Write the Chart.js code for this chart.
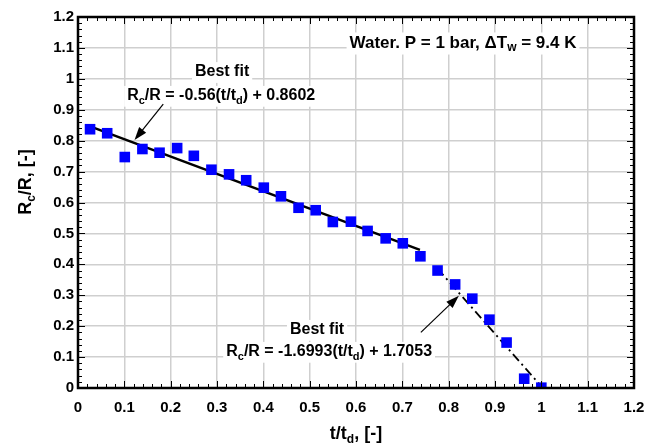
<!DOCTYPE html>
<html>
<head>
<meta charset="utf-8">
<script src="https://cdn.jsdelivr.net/npm/chart.js@4.4.1/dist/chart.umd.min.js"></script>
<style>
  html, body { margin: 0; padding: 0; background: #fff; }
  #wrap { width: 658px; height: 446px; }
</style>
</head>
<body>
<div id="wrap"><canvas id="rcChart"></canvas></div>
<script>
// measured points, t/td vs Rc/R
const tValues = [0.026, 0.063, 0.101, 0.139, 0.176, 0.214, 0.250, 0.288, 0.326, 0.363, 0.401, 0.438, 0.476, 0.513,
                 0.550, 0.589, 0.625, 0.664, 0.701, 0.739, 0.776, 0.814, 0.851, 0.888, 0.925, 0.963, 1.000];
const rValues = [0.837, 0.824, 0.747, 0.773, 0.761, 0.776, 0.751, 0.706, 0.691, 0.672, 0.648, 0.620, 0.583, 0.575,
                 0.537, 0.538, 0.508, 0.484, 0.468, 0.426, 0.380, 0.335, 0.289, 0.221, 0.147, 0.030, 0.001];

// best fit segments (end points)
const fit1T = [0.026, 0.738];
const fit1R = [0.846, 0.447];
const fit2T = [0.776, 1.003];
const fit2R = [0.386, 0.000];

const xTicks = [0, 0.1, 0.2, 0.3, 0.4, 0.5, 0.6, 0.7, 0.8, 0.9, 1, 1.1, 1.2];
const yTicks = [0, 0.1, 0.2, 0.3, 0.4, 0.5, 0.6, 0.7, 0.8, 0.9, 1, 1.1, 1.2];

const FONT = '"Liberation Sans", Arial, sans-serif';

// text pieces: [text, isSubscript]
const notes = [
    { x: 0.311, y: 1.022, size: 16, segs: [['Best fit']] },
    { x: 0.309, y: 0.945, size: 16, segs: [['R'], ['c', 1], ['/R = -0.56(t/t'], ['d', 1], [') + 0.8602']] },
    { x: 0.831, y: 1.116, size: 17, segs: [['Water. P = 1 bar, \u0394T'], ['w', 1], [' = 9.4 K']] },
    { x: 0.516, y: 0.188, size: 16, segs: [['Best fit']] },
    { x: 0.542, y: 0.117, size: 16, segs: [['R'], ['c', 1], ['/R = -1.6993(t/t'], ['d', 1], [') + 1.7053']] }
];
const arrows = [
    { from: [0.184, 0.918], to: [0.122, 0.802] },
    { from: [0.740, 0.180], to: [0.822, 0.298] }
];

function pts(xs, ys) {
    return xs.map((x, i) => ({ x: x, y: ys[i] }));
}

function richWidth(ctx, segs, size) {
    let w = 0;
    segs.forEach(s => {
        ctx.font = 'bold ' + (s[1] ? Math.round(size * 0.68) : size) + 'px ' + FONT;
        w += ctx.measureText(s[0]).width;
    });
    return w;
}

function drawRich(ctx, segs, cx, cy, size, bg) {
    const w = richWidth(ctx, segs, size);
    let x = cx - w / 2;
    if (bg) {
        ctx.fillStyle = '#fff';
        ctx.fillRect(x - 3, cy - size * 0.62, w + 6, size * 1.3);
    }
    ctx.fillStyle = '#000';
    ctx.textBaseline = 'middle';
    ctx.textAlign = 'left';
    segs.forEach(s => {
        const sub = !!s[1];
        ctx.font = 'bold ' + (sub ? Math.round(size * 0.68) : size) + 'px ' + FONT;
        ctx.fillText(s[0], x, sub ? cy + size * 0.3 : cy);
        x += ctx.measureText(s[0]).width;
    });
}

const decorPlugin = {
    id: 'decor',
    afterDatasetsDraw(chart) {
        const ctx = chart.ctx;
        const xs = chart.scales.x, ys = chart.scales.y;
        ctx.save();
        notes.forEach(n => {
            drawRich(ctx, n.segs, xs.getPixelForValue(n.x), ys.getPixelForValue(n.y), n.size, true);
        });
        arrows.forEach(a => {
            const x1 = xs.getPixelForValue(a.from[0]), y1 = ys.getPixelForValue(a.from[1]);
            const x2 = xs.getPixelForValue(a.to[0]), y2 = ys.getPixelForValue(a.to[1]);
            const ang = Math.atan2(y2 - y1, x2 - x1);
            const len = 13, half = 4.5;
            ctx.strokeStyle = '#000';
            ctx.lineWidth = 1.2;
            ctx.beginPath();
            ctx.moveTo(x1, y1);
            ctx.lineTo(x2 - Math.cos(ang) * len * 0.8, y2 - Math.sin(ang) * len * 0.8);
            ctx.stroke();
            ctx.fillStyle = '#000';
            ctx.beginPath();
            ctx.moveTo(x2, y2);
            ctx.lineTo(x2 - Math.cos(ang) * len - Math.sin(ang) * half, y2 - Math.sin(ang) * len + Math.cos(ang) * half);
            ctx.lineTo(x2 - Math.cos(ang) * len + Math.sin(ang) * half, y2 - Math.sin(ang) * len - Math.cos(ang) * half);
            ctx.closePath();
            ctx.fill();
        });
        ctx.restore();
    },
    afterDraw(chart) {
        const ctx = chart.ctx;
        const a = chart.chartArea;
        const xs = chart.scales.x, ys = chart.scales.y;
        ctx.save();
        ctx.strokeStyle = '#000';
        // minor / major ticks on all four sides, pointing inward
        ctx.lineWidth = 1;
        ctx.beginPath();
        for (let i = 0; i <= 60; i++) {
            const v = i * 0.02;
            const l = i % 5 === 0 ? 7 : 4;
            const px = Math.round(xs.getPixelForValue(v)) + 0.5;
            const py = Math.round(ys.getPixelForValue(v)) + 0.5;
            ctx.moveTo(px, a.bottom); ctx.lineTo(px, a.bottom - l);
            ctx.moveTo(px, a.top); ctx.lineTo(px, a.top + l);
            ctx.moveTo(a.left, py); ctx.lineTo(a.left + l, py);
            ctx.moveTo(a.right, py); ctx.lineTo(a.right - l, py);
        }
        ctx.stroke();
        ctx.lineWidth = 2.5;
        ctx.strokeRect(a.left, a.top, a.right - a.left, a.bottom - a.top);

        // axis titles
        drawRich(ctx, [['t/t'], ['d', 1], [', [-]']], (a.left + a.right) / 2, 434, 18, false);
        ctx.translate(26, 182);
        ctx.rotate(-Math.PI / 2);
        drawRich(ctx, [['R'], ['c', 1], ['/R, [-]']], 0, 0, 18, false);
        ctx.restore();
    }
};

const tickFont = { family: FONT, size: 15, weight: 'bold' };

new Chart(document.getElementById('rcChart'), {
    type: 'scatter',
    data: {
        datasets: [
            {
                label: 'data',
                data: pts(tValues, rValues),
                pointStyle: 'rect',
                pointRadius: 7.5,
                backgroundColor: '#0000ff',
                borderColor: '#0000ff',
                borderWidth: 0,
                order: 0
            },
            {
                label: 'fit 1',
                data: pts(fit1T, fit1R),
                showLine: true,
                pointRadius: 0,
                borderColor: '#000',
                borderWidth: 2.5,
                order: 1
            },
            {
                label: 'fit 2',
                data: pts(fit2T, fit2R),
                showLine: true,
                pointRadius: 0,
                borderColor: '#000',
                borderWidth: 1.8,
                borderDash: [9, 4, 2, 4],
                order: 1
            }
        ]
    },
    options: {
        responsive: true,
        maintainAspectRatio: false,
        animation: false,
        layout: { padding: { left: 0, top: 17, right: 24, bottom: 0 } },
        plugins: {
            legend: { display: false },
            tooltip: { enabled: false }
        },
        scales: {
            x: {
                type: 'linear',
                min: 0,
                max: 1.2,
                afterBuildTicks: s => { s.ticks = xTicks.map(v => ({ value: v })); },
                afterFit: s => { s.height = 58; },
                ticks: {
                    color: '#000',
                    font: tickFont,
                    padding: 11,
                    maxRotation: 0,
                    autoSkip: false,
                    callback: v => String(v)
                },
                grid: { color: '#cfcfcf', lineWidth: 1.5, drawTicks: false },
                border: { display: false }
            },
            y: {
                type: 'linear',
                min: 0,
                max: 1.2,
                afterBuildTicks: s => { s.ticks = yTicks.map(v => ({ value: v })); },
                afterFit: s => { s.width = 78; },
                ticks: {
                    color: '#000',
                    font: tickFont,
                    padding: 4,
                    autoSkip: false,
                    callback: v => String(v)
                },
                grid: { color: '#cfcfcf', lineWidth: 1.5, drawTicks: false },
                border: { display: false }
            }
        }
    },
    plugins: [decorPlugin]
});
</script>
</body>
</html>
